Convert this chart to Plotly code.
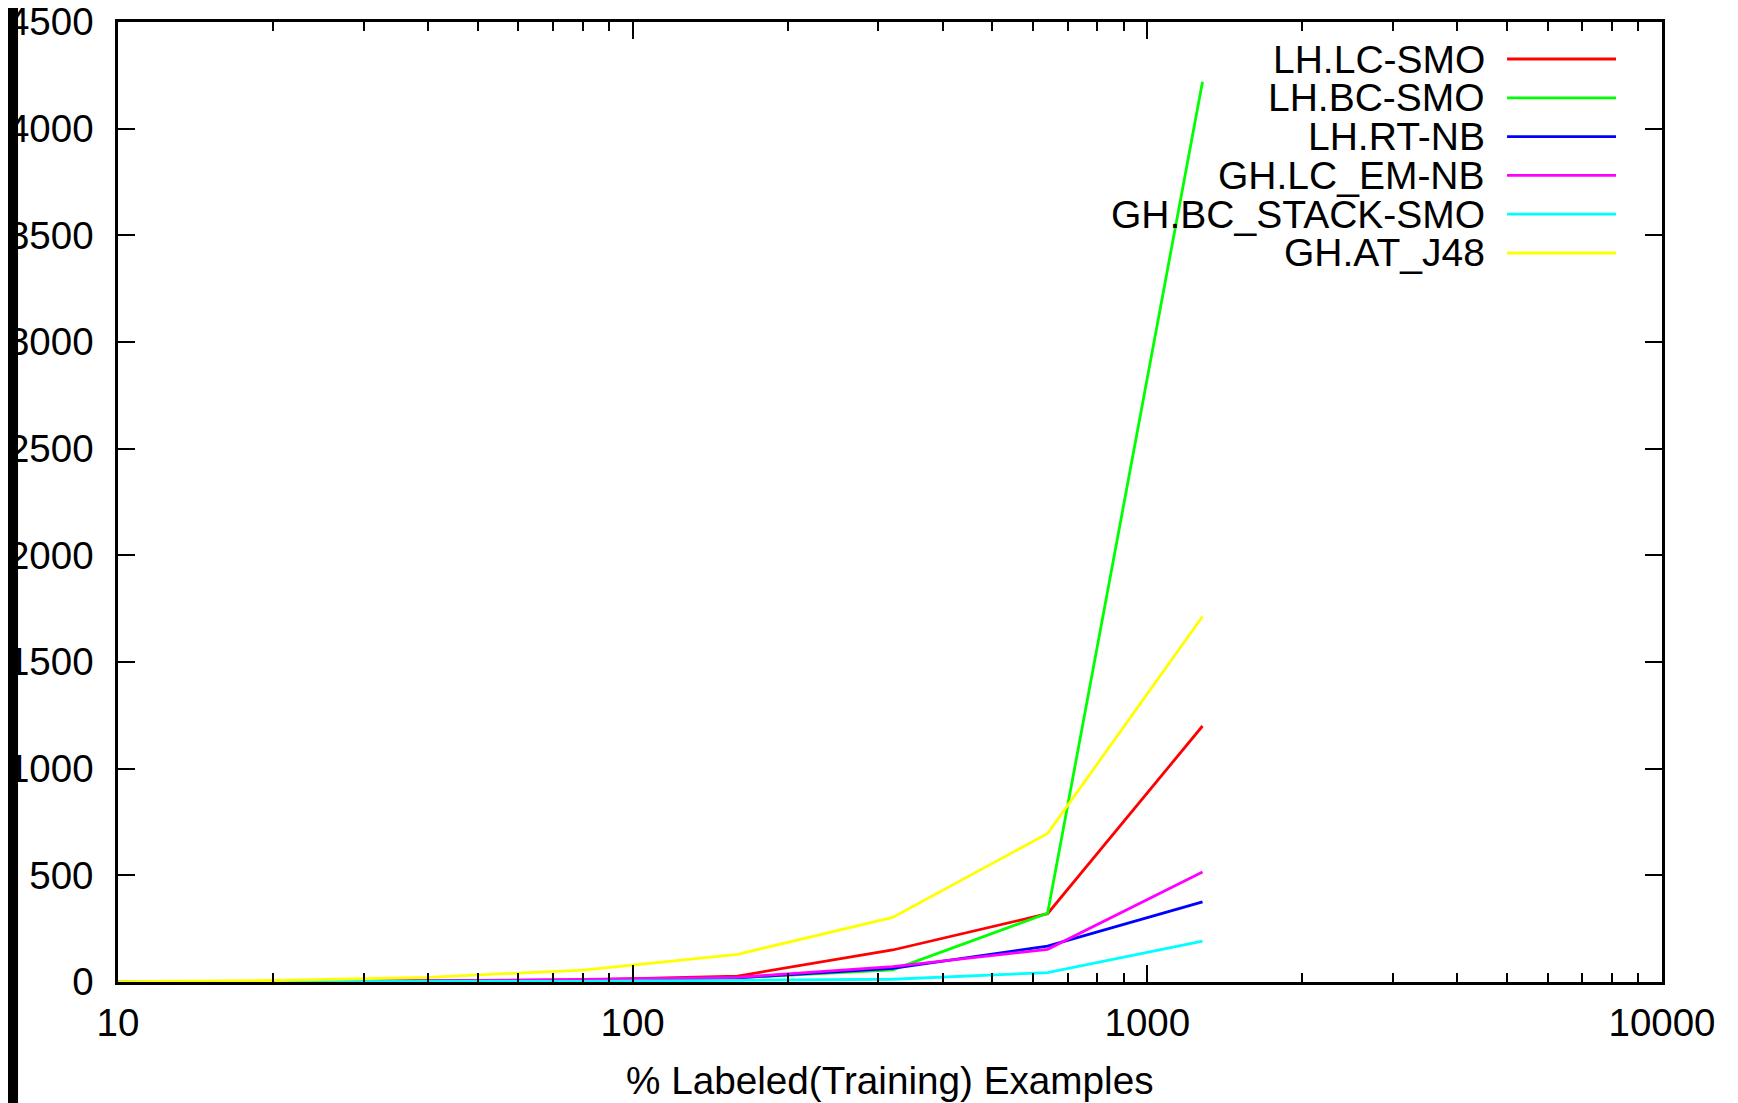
import plotly.graph_objects as go

# ---- data ----
x_examples = [10, 20, 40, 80, 160, 320, 640, 1280]
series_names = ["LH.LC-SMO", "LH.BC-SMO", "LH.RT-NB", "GH.LC_EM-NB", "GH.BC_STACK-SMO", "GH.AT_J48"]
lh_lc_smo = [1, 2, 5, 10, 28, 150, 320, 1200]
lh_bc_smo = [1, 2, 4, 8, 20, 57, 322, 4220]
lh_rt_nb = [1, 2, 4, 8, 20, 64, 168, 376]
gh_lc_em_nb = [1, 2, 5, 12, 22, 72, 153, 516]
gh_bc_stack_smo = [0.5, 1, 2, 3, 8, 13, 44, 192]
gh_at_j48 = [2, 7, 22, 56, 130, 303, 696, 1713]
series_values = [lh_lc_smo, lh_bc_smo, lh_rt_nb, gh_lc_em_nb, gh_bc_stack_smo, gh_at_j48]
series_colors = ["#ff0000", "#00ff00", "#0000ff", "#ff00ff", "#00ffff", "#ffff00"]

x_tick_vals = [10, 100, 1000, 10000]
x_tick_text = ["10", "100", "1000", "10000"]
y_tick_vals = [0, 500, 1000, 1500, 2000, 2500, 3000, 3500, 4000, 4500]
x_title = "% Labeled(Training) Examples"

minor_x = [m * 10 ** d for d in (1, 2, 3) for m in range(2, 10)]

FONT = "Liberation Sans, Arial, sans-serif"
OFF = 8  # page body margin
W, H = 1738 - OFF, 1103 - OFF
# plot area in window pixels: left 117.5, top 22, right 1662, bottom 982
L = 117.5 - OFF
T = 22 - OFF
R = 1738 - 1662
B = 1103 - 982
PW = W - L - R
PH = H - T - B

fig = go.Figure()
for name, vals, col in zip(series_names, series_values, series_colors):
    fig.add_trace(go.Scatter(x=x_examples, y=vals, mode="lines", name=name,
                             line=dict(color=col, width=2.8), showlegend=False))

axis_common = dict(showline=True, linecolor="black", linewidth=2.5, mirror="allticks",
                   ticks="inside", tickcolor="black", tickwidth=2, ticklen=17,
                   showgrid=False, zeroline=False, ticklabeloverflow="allow",
                   tickfont=dict(family=FONT, size=38.5, color="black"))

fig.update_xaxes(type="log", range=[1, 4], tickvals=x_tick_vals, ticktext=x_tick_text,
                 ticklabelstandoff=5,
                 minor=dict(ticks="inside", ticklen=9, tickwidth=2, tickcolor="black",
                            tickvals=minor_x, showgrid=False),
                 **axis_common)
fig.update_yaxes(range=[0, 4500], tickvals=y_tick_vals, ticklabelstandoff=14, **axis_common)


# helpers converting window pixels to paper coords
def px_x(p):
    return (p - OFF - L) / PW


def px_y(p):
    return 1 - (p - OFF - T) / PH


shapes = []
annotations = []
row0 = 59
row_step = 38.8
for i, (name, col) in enumerate(zip(series_names, series_colors)):
    yy = px_y(row0 + i * row_step)
    annotations.append(dict(x=px_x(1486), y=yy, xref="paper", yref="paper", text=name,
                            showarrow=False, xanchor="right", yanchor="middle",
                            borderpad=0,
                            font=dict(family=FONT, size=39, color="black")))
    shapes.append(dict(type="line", xref="paper", yref="paper", x0=px_x(1507), x1=px_x(1616),
                       y0=yy, y1=yy, line=dict(color=col, width=2.8)))

annotations.append(dict(x=0.5, y=px_y(1080), xref="paper", yref="paper", text=x_title,
                        showarrow=False, xanchor="center", yanchor="middle",
                        font=dict(family=FONT, size=38.7, color="black")))

# black bar at left edge
shapes.append(dict(type="rect", xref="paper", yref="paper", x0=px_x(0), x1=px_x(17.5),
                   y0=px_y(1110), y1=px_y(0), fillcolor="black", line=dict(width=0),
                   layer="above"))

fig.update_layout(width=W, height=H, margin=dict(l=L, r=R, t=T, b=B, autoexpand=False),
                  paper_bgcolor="white", plot_bgcolor="white",
                  shapes=shapes, annotations=annotations)

fig.write_html("out.html")
